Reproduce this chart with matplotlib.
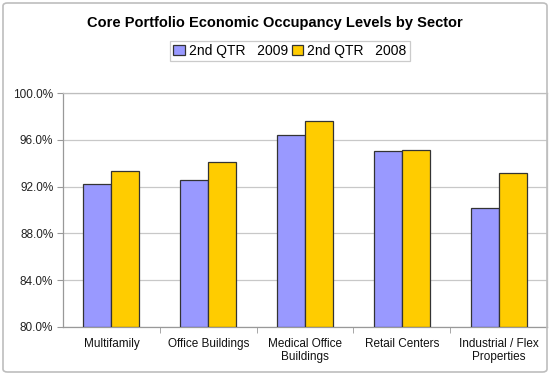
import numpy as np
import matplotlib
matplotlib.use("Agg")
from matplotlib import pyplot as plt
from matplotlib.patches import FancyBboxPatch
from matplotlib.ticker import FixedLocator

plt.rcParams["font.family"] = ["Liberation Sans", "DejaVu Sans"]

sectors = ["Multifamily", "Office Buildings", "Medical Office\nBuildings",
           "Retail Centers", "Industrial / Flex\nProperties"]
q2_2009 = [92.2, 92.6, 96.4, 95.0, 90.2]
q2_2008 = [93.3, 94.1, 97.6, 95.1, 93.2]
series_labels = ["2nd QTR   2009", "2nd QTR   2008"]

COLOUR_2009 = "#9999FF"
COLOUR_2008 = "#FFCC00"
COLOUR_GRID = "#C8C8C8"

fig = plt.figure(figsize=(5.5, 3.75), dpi=100)
ax = fig.add_axes([63 / 550, 1 - 327 / 375, 484 / 550, 234 / 375])

# outer chart border
fig.patches.append(FancyBboxPatch((3 / 550, 3 / 375), 544 / 550, 369 / 375,
                                  boxstyle="round,pad=0,rounding_size=0.008",
                                  transform=fig.transFigure, fill=False,
                                  edgecolor="#BEBEBE", linewidth=1.2))

x = np.arange(len(sectors))
w = 0.29
ax.bar(x - w / 2, np.array(q2_2009) - 80, w, bottom=80, color=COLOUR_2009,
       edgecolor="#333333", linewidth=0.9, label=series_labels[0], zorder=3)
ax.bar(x + w / 2, np.array(q2_2008) - 80, w, bottom=80, color=COLOUR_2008,
       edgecolor="#333333", linewidth=0.9, label=series_labels[1], zorder=3)

ax.set_xlim(-0.5, len(sectors) - 0.5)
ax.set_ylim(80, 100)
yticks = [80, 84, 88, 92, 96, 100]
ax.set_yticks(yticks)
ax.set_yticklabels([f"{v:.1f}%" for v in yticks], fontsize=8.5, color="#222222")
ax.yaxis.grid(True, color=COLOUR_GRID, linewidth=0.9, zorder=0)

ax.set_xticks(x)
ax.set_xticklabels(sectors, fontsize=8.5, color="#111111", linespacing=1.15)
ax.tick_params(axis="x", length=0, pad=8)
ax.xaxis.set_minor_locator(FixedLocator(np.arange(0.5, len(sectors) - 0.5, 1)))
ax.tick_params(axis="x", which="minor", length=4, color="#999999", direction="out")
ax.tick_params(axis="y", length=4, color="#999999", pad=3)

for side in ["top", "right", "left", "bottom"]:
    ax.spines[side].set_color("#BEBEBE")
    ax.spines[side].set_linewidth(0.9)
ax.spines["left"].set_color("#999999")
ax.spines["bottom"].set_color("#999999")

fig.text(0.5, 1 - 23 / 375, "Core Portfolio Economic Occupancy Levels by Sector",
         ha="center", va="center", fontsize=10.5, fontweight="bold")

leg = fig.legend(loc="center", bbox_to_anchor=(290 / 550, 1 - 51 / 375), ncol=2,
                 fontsize=10, frameon=True, fancybox=False, handlelength=0.8,
                 handleheight=0.8, handletextpad=0.3, columnspacing=0.3,
                 borderpad=0.25, borderaxespad=0)
leg.get_frame().set_edgecolor("#BEBEBE")
leg.get_frame().set_linewidth(0.9)

fig.savefig("out.png", dpi=100)
